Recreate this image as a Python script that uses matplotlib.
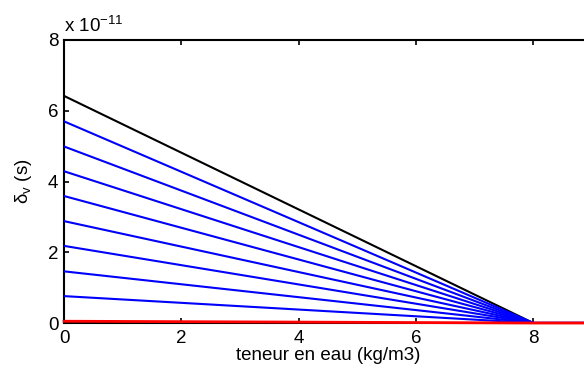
import matplotlib
matplotlib.use("Agg")
import matplotlib.pyplot as plt
from matplotlib.ticker import FuncFormatter, FixedLocator

plt.rcParams['font.family'] = ['Liberation Sans', 'DejaVu Sans']
plt.rcParams['mathtext.default'] = 'regular'

# x points of each curve (kg/m3)
x_points = [0, 8, 9]
# starting values at x=0 (s); each curve falls linearly to 0 at x=8 then stays at 0
black_start = 6.42e-11
blue_starts = [5.70e-11, 4.99e-11, 4.29e-11, 3.59e-11, 2.88e-11, 2.18e-11, 1.46e-11, 0.76e-11]
red_start = 0.05e-11

x_ticks = [0, 2, 4, 6, 8]
y_ticks = [0, 2e-11, 4e-11, 6e-11, 8e-11]

fig = plt.figure(figsize=(5.84, 3.72), dpi=100)
ax = fig.add_axes([64/584, 49/372, 528/584, 283/372])

def curve(v0):
    return [v0, 0.0, 0.0]

ax.plot(x_points, curve(black_start), color='black', lw=1.5, zorder=3)
for v in blue_starts:
    ax.plot(x_points, curve(v), color=(0, 0, 1), lw=1.5, zorder=3)
ax.plot(x_points, curve(red_start), color=(1, 0, 0), lw=2.0, zorder=4, clip_on=False)

ax.set_xlim(0, 9)
ax.set_ylim(0, 8e-11)
ax.xaxis.set_major_locator(FixedLocator(x_ticks))
ax.yaxis.set_major_locator(FixedLocator(y_ticks))
ax.yaxis.set_major_formatter(FuncFormatter(lambda v, p: f"{v/1e-11:g}"))
ax.xaxis.set_major_formatter(FuncFormatter(lambda v, p: f"{v:g}"))

for s in ax.spines.values():
    s.set_linewidth(1.5)
ax.tick_params(direction='in', length=3.5, width=1.2, labelsize=13.5, top=True, right=True)
ax.tick_params(axis='x', pad=5)
ax.tick_params(axis='y', pad=4)

ax.set_xlabel('teneur en eau (kg/m3)', fontsize=13.5, labelpad=0)
ax.set_ylabel(r'$\delta_v$ (s)', fontsize=13.5, labelpad=10)
ax.text(0.0, 1.015, r'x 10$^{-11}$', transform=ax.transAxes, fontsize=13.5, ha='left', va='bottom')

fig.savefig('out.png', dpi=100)
